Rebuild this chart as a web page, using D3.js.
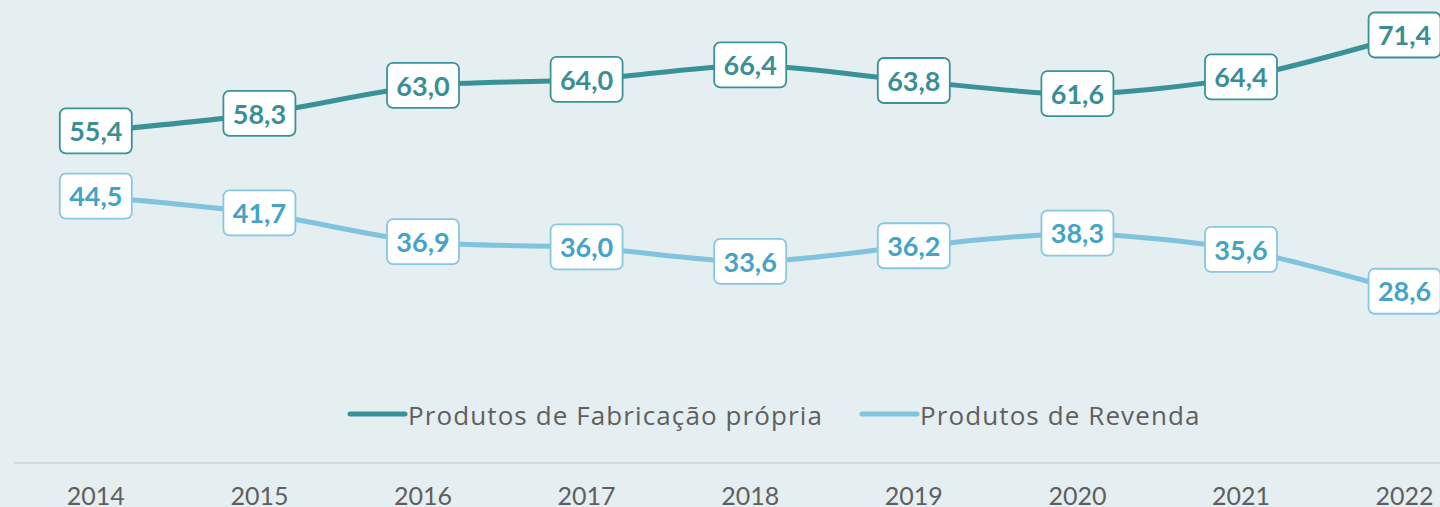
<!DOCTYPE html>
<html>
<head>
<meta charset="utf-8">
<script src="https://cdn.jsdelivr.net/npm/d3@7"></script>
<style>
	html, body { margin: 0; padding: 0; background: #e5eef0; overflow: hidden; }
	svg { display: block; font-family: Lato, "Noto Sans", sans-serif; }
</style>
</head>
<body>
<svg id="chart"></svg>
<script>
// data
var years = ['2014', '2015', '2016', '2017', '2018', '2019', '2020', '2021', '2022'];
var fabricacao = [55.4, 58.3, 63.0, 64.0, 66.4, 63.8, 61.6, 64.4, 71.4];
var revenda = [44.5, 41.7, 36.9, 36.0, 33.6, 36.2, 38.3, 35.6, 28.6];
var seriesNames = ['Produtos de Fabricação própria', 'Produtos de Revenda'];

var width = 1440, height = 507;

var svg = d3.select('#chart')
	.attr('width', width)
	.attr('height', height);

// the chart runs off the right edge, so the band range goes past the window
var x = d3.scaleBand()
	.domain(years)
	.range([14, 14 + 163.6 * years.length]);

var y = d3.scaleLinear()
	.domain([0, 80])
	.range([463, -16]);

var cx = function(d, i) { return x(years[i]) + x.bandwidth() / 2; };

var series = [
	{ name: seriesNames[0], values: fabricacao, line: '#3a9299', box: '#3a9299', text: '#3a8f97' },
	{ name: seriesNames[1], values: revenda, line: '#7fc3de', box: '#86c8e1', text: '#45a3c6' }
];

// x axis line + labels
svg.append('line')
	.attr('x1', 14).attr('x2', width)
	.attr('y1', 463).attr('y2', 463)
	.attr('stroke', '#d6dadb')
	.attr('stroke-width', 2);

svg.append('g')
	.selectAll('text')
	.data(years)
	.enter().append('text')
	.attr('x', function(d) { return x(d) + x.bandwidth() / 2; })
	.attr('y', 505)
	.attr('text-anchor', 'middle')
	.attr('font-size', 25)
	.attr('fill', '#5f5f5f')
	.text(function(d) { return d; });

var line = d3.line()
	.x(function(d, i) { return cx(d, i); })
	.y(function(d) { return y(d); })
	.curve(d3.curveCardinal.tension(0.2));

series.forEach(function(s) {
	svg.append('path')
		.datum(s.values)
		.attr('d', line)
		.attr('fill', 'none')
		.attr('stroke', s.line)
		.attr('stroke-width', 5)
		.attr('stroke-linejoin', 'round');
});

// value labels
series.forEach(function(s) {
	var g = svg.append('g')
		.selectAll('g')
		.data(s.values)
		.enter().append('g')
		.attr('transform', function(d, i) { return 'translate(' + cx(d, i) + ',' + y(d) + ')'; });

	g.append('rect')
		.attr('x', -36).attr('y', -23)
		.attr('width', 72).attr('height', 45)
		.attr('rx', 6)
		.attr('fill', 'white')
		.attr('stroke', s.box)
		.attr('stroke-width', 1.8);

	g.append('text')
		.attr('text-anchor', 'middle')
		.attr('dy', '0.36em')
		.attr('font-size', 27)
		.attr('font-weight', 'bold')
		.attr('fill', s.text)
		.text(function(d) { return d3.format('.1f')(d).replace('.', ','); });
});

// legend
var legendX = [350, 862];
var legend = svg.append('g')
	.selectAll('g')
	.data(series)
	.enter().append('g')
	.attr('transform', function(d, i) { return 'translate(' + legendX[i] + ',414)'; });

legend.append('line')
	.attr('x1', 0).attr('x2', 55)
	.attr('stroke', function(d) { return d.line; })
	.attr('stroke-width', 5)
	.attr('stroke-linecap', 'round');

legend.append('text')
	.attr('x', 58)
	.attr('y', 11)
	.attr('font-family', '"Open Sans", Lato, sans-serif')
	.attr('font-size', 26)
	.attr('letter-spacing', 1.1)
	.attr('fill', '#5f5f5f')
	.text(function(d) { return d.name; });
</script>
</body>
</html>
